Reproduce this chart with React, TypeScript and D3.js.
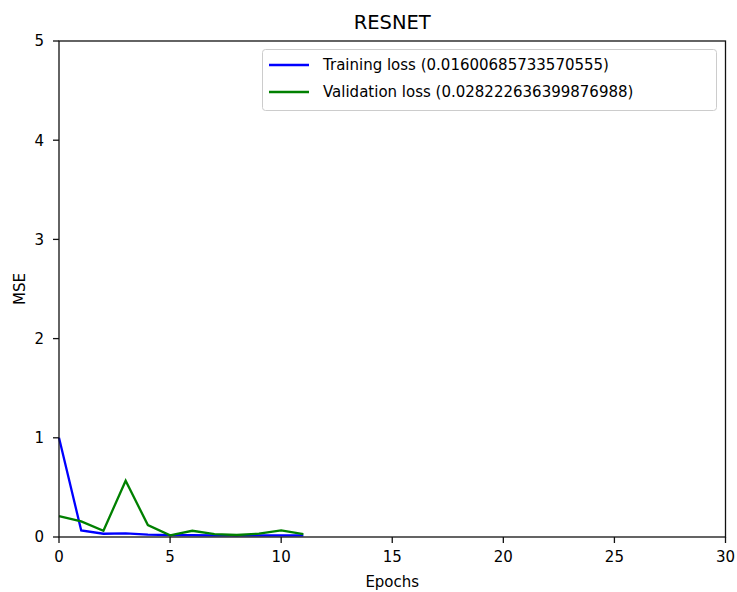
import React, { useEffect, useRef } from 'react';
import * as d3 from 'd3';

const epochs = [0, 1, 2, 3, 4, 5, 6, 7, 8, 9, 10, 11];
const trainingLoss = [1.0, 0.066, 0.033, 0.036, 0.023, 0.019, 0.018, 0.017, 0.017, 0.016, 0.016, 0.016];
const validationLoss = [0.21, 0.157, 0.063, 0.567, 0.12, 0.016, 0.063, 0.03, 0.02, 0.033, 0.066, 0.028];
const xTicks = [0, 5, 10, 15, 20, 25, 30];
const yTicks = [0, 1, 2, 3, 4, 5];
const seriesNames = ['Training loss (0.01600685733570555)', 'Validation loss (0.028222636399876988)'];
const seriesColors = ['#0000ff', '#008000'];

const App: React.FC = () => {
  const svgRef = useRef<SVGSVGElement>(null);

  useEffect(() => {
    if (!svgRef.current) return;
    const svg = d3.select(svgRef.current);
    svg.selectAll('*').remove();

    const width = 737;
    const height = 592;
    const margin = { left: 59, right: 11.5, top: 41, bottom: 55 };
    const font = '"DejaVu Sans", sans-serif';

    const x = d3.scaleLinear().domain([0, 30]).range([margin.left, width - margin.right]);
    const y = d3.scaleLinear().domain([0, 5]).range([height - margin.bottom, margin.top]);

    svg.append('rect').attr('width', width).attr('height', height).attr('fill', '#fff');

    // loss curves
    const series = [trainingLoss, validationLoss];
    const line = d3.line<number>()
      .x((_, i) => x(epochs[i]))
      .y(d => y(d));
    series.forEach((s, i) => {
      svg.append('path')
        .datum(s)
        .attr('d', line)
        .attr('fill', 'none')
        .attr('stroke', seriesColors[i])
        .attr('stroke-width', 2.3);
    });

    // frame
    svg.append('rect')
      .attr('x', margin.left)
      .attr('y', margin.top)
      .attr('width', width - margin.right - margin.left)
      .attr('height', height - margin.bottom - margin.top)
      .attr('fill', 'none')
      .attr('stroke', '#111')
      .attr('stroke-width', 1.3);

    // x ticks
    xTicks.forEach(t => {
      svg.append('line')
        .attr('x1', x(t)).attr('x2', x(t))
        .attr('y1', y(0)).attr('y2', y(0) + 6)
        .attr('stroke', '#111').attr('stroke-width', 1.3);
      svg.append('text')
        .attr('x', x(t)).attr('y', y(0) + 25)
        .attr('text-anchor', 'middle')
        .style('font-family', font)
        .style('font-size', '15px')
        .text(String(t));
    });

    // y ticks
    yTicks.forEach(t => {
      svg.append('line')
        .attr('x1', margin.left - 6).attr('x2', margin.left)
        .attr('y1', y(t)).attr('y2', y(t))
        .attr('stroke', '#111').attr('stroke-width', 1.3);
      svg.append('text')
        .attr('x', margin.left - 15).attr('y', y(t))
        .attr('dy', '0.36em')
        .attr('text-anchor', 'end')
        .style('font-family', font)
        .style('font-size', '15px')
        .text(String(t));
    });

    // title and axis labels
    svg.append('text')
      .attr('x', (margin.left + width - margin.right) / 2)
      .attr('y', 29)
      .attr('text-anchor', 'middle')
      .style('font-family', font)
      .style('font-size', '19.5px')
      .text('RESNET');

    svg.append('text')
      .attr('x', (margin.left + width - margin.right) / 2)
      .attr('y', 587)
      .attr('text-anchor', 'middle')
      .style('font-family', font)
      .style('font-size', '15px')
      .text('Epochs');

    svg.append('text')
      .attr('transform', `translate(25,${(margin.top + height - margin.bottom) / 2}) rotate(-90)`)
      .attr('text-anchor', 'middle')
      .style('font-family', font)
      .style('font-size', '15px')
      .text('MSE');

    // legend
    const legend = svg.append('g');
    legend.append('rect')
      .attr('x', 262.5).attr('y', 49.5)
      .attr('width', 454).attr('height', 61)
      .attr('rx', 3)
      .attr('fill', '#fff')
      .attr('fill-opacity', 0.8)
      .attr('stroke', '#ccc');
    seriesNames.forEach((name, i) => {
      const ly = 65 + i * 27;
      legend.append('line')
        .attr('x1', 269).attr('x2', 309)
        .attr('y1', ly).attr('y2', ly)
        .attr('stroke', seriesColors[i])
        .attr('stroke-width', 2.3);
      legend.append('text')
        .attr('x', 323).attr('y', ly)
        .attr('dy', '0.36em')
        .style('font-family', font)
        .style('font-size', '15px')
        .text(name);
    });
  }, []);

  return (
    <svg ref={svgRef} width={737} height={592} style={{ display: 'block', position: 'absolute', left: 0, top: 0 }} />
  );
};

export default App;
